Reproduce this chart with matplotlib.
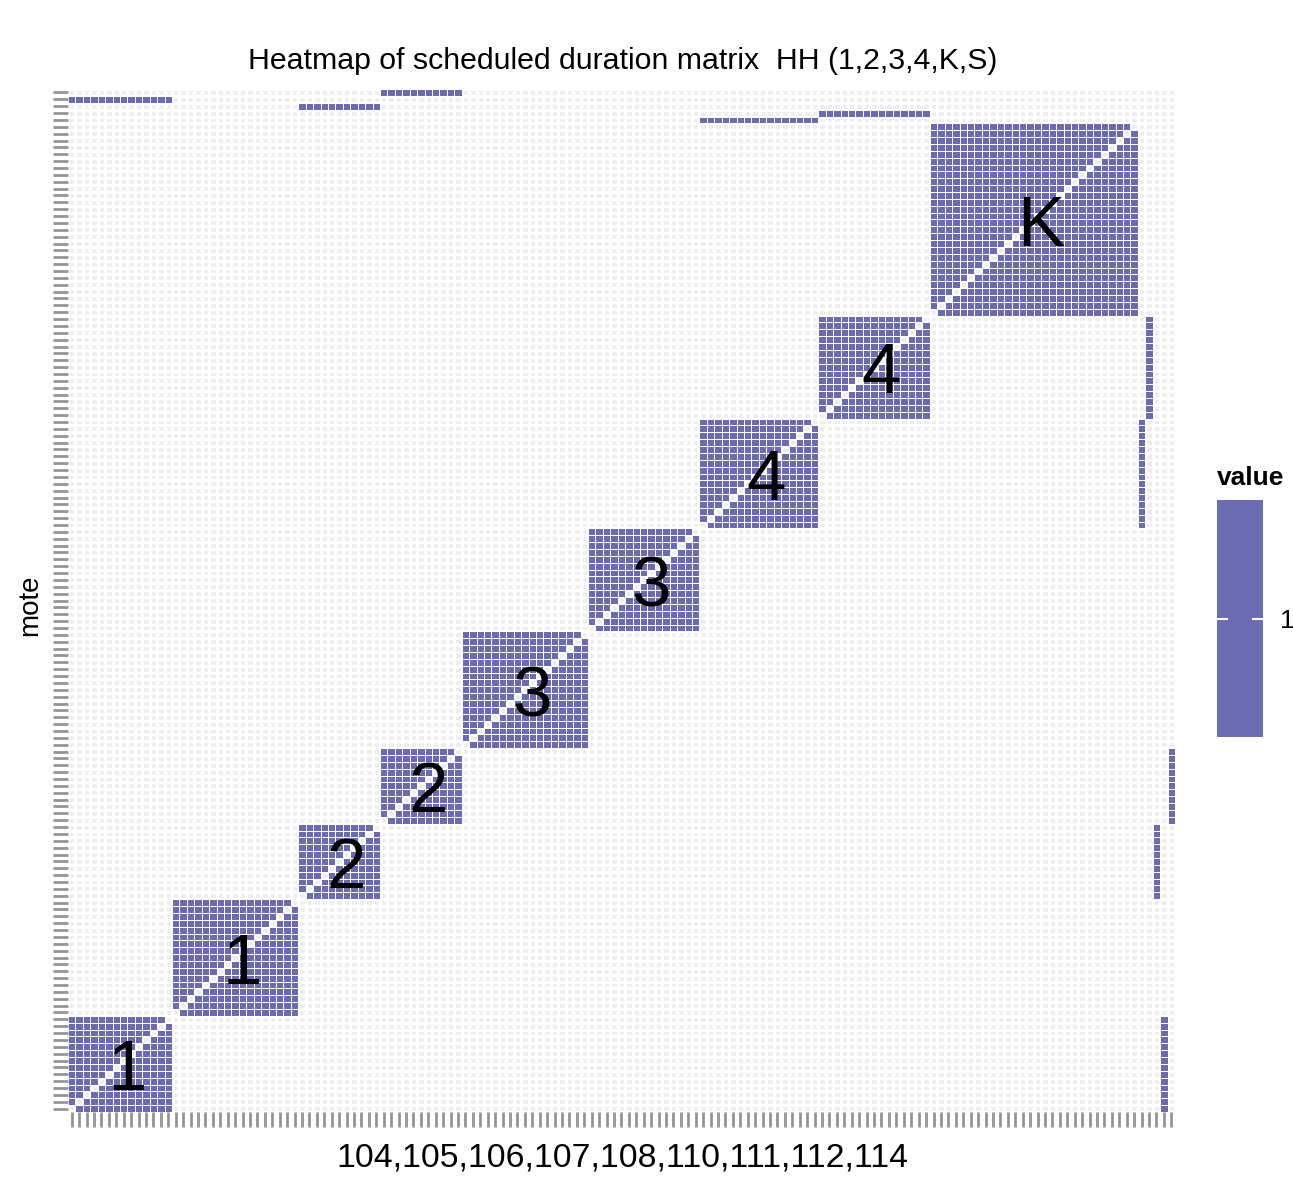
import numpy as np
import matplotlib
matplotlib.use("Agg")
import matplotlib.pyplot as plt
from matplotlib.colors import ListedColormap, Normalize
from matplotlib.cm import ScalarMappable

plt.rcParams["font.family"] = ["Liberation Sans", "DejaVu Sans"]

# Diagonal groups of motes (bottom-left to top-right) and their sizes
group_labels = ["1", "1", "2", "2", "3", "3", "4", "4", "K"]
group_sizes = [14, 17, 11, 11, 17, 15, 16, 15, 28]
# Extra "S" motes appended after the groups; each one links to a whole group
spare_links = [6, 7, 2, 0, 3]

title = "Heatmap of scheduled duration matrix  HH (1,2,3,4,K,S)"
x_title = "104,105,106,107,108,110,111,112,114"
y_title = "mote"
legend_title = "value"
legend_ticks = [1]
fill_color = "#6b6bb4"
empty_color = "#eeeeee"

# Assemble the symmetric duration matrix
n_main = sum(group_sizes)
n = n_main + len(spare_links)
starts = np.concatenate([[0], np.cumsum(group_sizes)[:-1]]).astype(int)
M = np.zeros((n, n))
for s, size in zip(starts, group_sizes):
    M[s:s + size, s:s + size] = 1
np.fill_diagonal(M, 0)
for k, g in enumerate(spare_links):
    r = n_main + k
    s, size = starts[g], group_sizes[g]
    M[r, s:s + size] = 1
    M[s:s + size, r] = 1

fig = plt.figure(figsize=(12.93, 11.92), dpi=100)
ax = fig.add_axes([0.0526, 0.0671, 0.8561, 0.8582])

edges = np.arange(n + 1)
# empty cells: pale tiles separated by white gaps
ax.pcolormesh(edges, edges, np.ones_like(M), cmap=ListedColormap([empty_color]),
              edgecolors="white", linewidth=2.0, vmin=0, vmax=2)
# filled cells
ax.pcolormesh(edges, edges, np.ma.masked_where(M == 0, M),
              cmap=ListedColormap([fill_color]), vmin=0.5, vmax=1.5,
              edgecolors="white", linewidth=0.5)

ax.set_xlim(0, n)
ax.set_ylim(0, n)
ax.set_xticks(np.arange(n) + 0.5)
ax.set_yticks(np.arange(n) + 0.5)
ax.set_xticklabels([])
ax.set_yticklabels([])
ax.tick_params(axis="both", length=11, width=2.0, color="#959595")
for sp in ax.spines.values():
    sp.set_visible(False)

# group labels in the middle of each block
for lab, s, size in zip(group_labels, starts, group_sizes):
    c = s + size / 2
    ax.text(c + 1.0, c - 1.2, lab, ha="center", va="center", fontsize=51, color="black")

fig.text(0.4818, 1 - 61 / 1192, title, ha="center", va="center", fontsize=21.8)
fig.text(0.4814, 1 - 1158 / 1192, x_title, ha="center", va="center", fontsize=24.4)
fig.text(0.0232, 1 - 605 / 1192, y_title, ha="center", va="center", fontsize=20, rotation=90)

# legend bar
cax = fig.add_axes([0.9412, 0.3817, 0.0356, 0.1988])
sm = ScalarMappable(norm=Normalize(0.5, 1.5), cmap=ListedColormap([fill_color]))
cb = fig.colorbar(sm, cax=cax, ticks=legend_ticks)
cb.outline.set_visible(False)
cax.tick_params(direction="in", color="white", length=8, width=1.5,
                left=True, right=True, labelsize=19, pad=12)
fig.text(0.9412, 1 - 478 / 1192, legend_title, ha="left", va="center",
         fontsize=19, fontweight="bold")

fig.savefig("out.png", dpi=100)
